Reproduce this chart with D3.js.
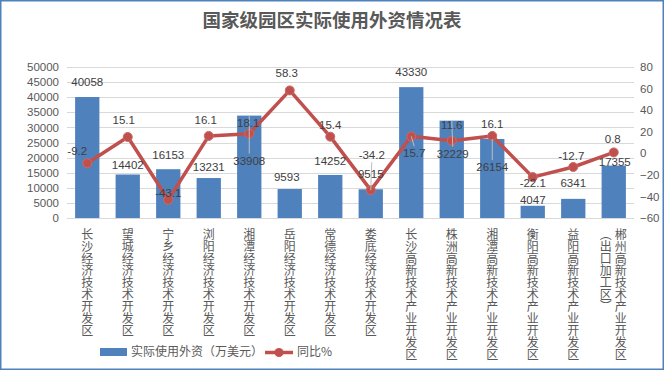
<html>
<head>
<meta charset="utf-8">
<style>
  body { margin: 0; background: #fff; }
  text { font-family: "Liberation Sans", "Noto Sans CJK SC", sans-serif; }
  .cjk { font-family: "Noto Sans CJK SC", sans-serif; }
</style>
</head>
<body>
<script src="https://d3js.org/d3.v7.min.js"></script>
<script>

var categories = ["长沙经济技术开发区", "望城经济技术开发区", "宁乡经济技术开发区", "浏阳经济技术开发区",
  "湘潭经济技术开发区", "岳阳经济技术开发区", "常德经济技术开发区", "娄底经济技术开发区",
  "长沙高新技术产业开发区", "株洲高新技术产业开发区", "湘潭高新技术产业开发区", "衡阳高新技术产业开发区",
  "益阳高新技术产业开发区", "郴州高新技术产业开发区\n（出口加工区）"];
var foreignInvest = [40058, 14402, 16153, 13231, 33908, 9593, 14252, 9515, 43330, 32229, 26154, 4047, 6341, 17355];
var yoyPct = [-9.2, 15.1, -43.1, 16.1, 18.1, 58.3, 15.4, -34.2, 15.7, 11.6, 16.1, -22.1, -12.7, 0.8];
var leftTicks = [0, 5000, 10000, 15000, 20000, 25000, 30000, 35000, 40000, 45000, 50000];
var rightTicks = [-60, -40, -20, 0, 20, 40, 60, 80];

// label nudges (px), labels were dragged around in the original
var barLabelDy = [-15, -10, -14, -11, 45, -12, -14, -15, -15, 33, 28, -6, -16, -4];
var barLabelDx = [0, 0, 0, 0, 0, -3, 0, 0, 0, 1, 0, 0, 0, 1];
var lineLabelDy = [-12, -17, -7, -16, -11, -17, -12, -35, 17, -16, -12, 6, -11, -13];
var lineLabelDx = [-10, -4, 0, -3, -1, -3, 0, 1, 3, 0, 0, 0, -2, -1];

var W = 664, H = 370;
var plot = {left: 67, right: 634, top: 67, bottom: 218};
var blue = "#4f81bd", red = "#c0504d", grey = "#595959";

var svg = d3.select("body").append("svg")
    .attr("width", W)
    .attr("height", H);

svg.append("rect")
    .attr("x", 0.75).attr("y", 0.75)
    .attr("width", W - 1.5).attr("height", H - 1.5)
    .attr("fill", "#fff")
    .attr("stroke", blue)
    .attr("stroke-width", 1.5);

svg.append("text")
    .attr("class", "cjk")
    .attr("x", 332).attr("y", 27)
    .attr("text-anchor", "middle")
    .attr("font-size", 18.5)
    .attr("font-weight", "bold")
    .attr("fill", grey)
    .text("国家级园区实际使用外资情况表");

var x = d3.scaleBand()
    .domain(categories)
    .range([plot.left, plot.right])
    .paddingInner(0.4)
    .paddingOuter(0.2);

var y = d3.scaleLinear().domain([0, 50000]).range([plot.bottom, plot.top]);
var y2 = d3.scaleLinear().domain([-60, 80]).range([plot.bottom, plot.top]);

// grid
svg.append("g")
  .selectAll("line")
  .data(leftTicks)
  .enter().append("line")
    .attr("x1", plot.left).attr("x2", plot.right)
    .attr("y1", function(d) { return Math.round(y(d)) + 0.5; })
    .attr("y2", function(d) { return Math.round(y(d)) + 0.5; })
    .attr("stroke", "#d9d9d9")
    .attr("stroke-width", 1);

// left axis
var gl = svg.append("g")
    .attr("transform", "translate(" + plot.left + ",0)")
    .call(d3.axisLeft(y).tickValues(leftTicks).tickSize(0).tickPadding(8).tickFormat(d3.format("d")));
gl.select(".domain").remove();
gl.selectAll("text").attr("font-size", 11.5).attr("fill", grey).attr("font-family", "Liberation Sans");

// right axis
var gr = svg.append("g")
    .attr("transform", "translate(" + plot.right + ",0)")
    .call(d3.axisRight(y2).tickValues(rightTicks).tickSize(0).tickPadding(6));
gr.select(".domain").remove();
gr.selectAll("text").attr("font-size", 11.5).attr("fill", grey).attr("font-family", "Liberation Sans");

// bars
svg.append("g")
  .selectAll("rect")
  .data(foreignInvest)
  .enter().append("rect")
    .attr("x", function(d, i) { return x(categories[i]); })
    .attr("y", function(d) { return y(d); })
    .attr("width", x.bandwidth())
    .attr("height", function(d) { return y(0) - y(d); })
    .attr("fill", blue);

// line
var cx = function(i) { return x(categories[i]) + x.bandwidth() / 2; };
var line = d3.line()
    .x(function(d, i) { return cx(i); })
    .y(function(d) { return y2(d); });

svg.append("path")
    .datum(yoyPct)
    .attr("d", line)
    .attr("fill", "none")
    .attr("stroke", red)
    .attr("stroke-width", 3.5)
    .attr("stroke-linejoin", "round");

svg.append("g")
  .selectAll("circle")
  .data(yoyPct)
  .enter().append("circle")
    .attr("cx", function(d, i) { return cx(i); })
    .attr("cy", function(d) { return y2(d); })
    .attr("r", 4.5)
    .attr("fill", red)
    .attr("stroke", "#c96a67")
    .attr("stroke-width", 1);

// leader lines
function leader(g, ax, ay, lx, ly) {
  var edge = ly > ay ? ly - 7 : ly + 7;
  if (Math.abs(edge - ay) < 3) return;
  g.append("line")
    .attr("x1", ax).attr("y1", ay)
    .attr("x2", lx).attr("y2", edge)
    .attr("stroke", "#bfbfbf")
    .attr("stroke-width", 1);
}
var leaders = svg.append("g");
foreignInvest.forEach(function(d, i) {
  if (barLabelDy[i] > 20) leader(leaders, cx(i), y(d), cx(i) + barLabelDx[i], y(d) + barLabelDy[i]);
});
yoyPct.forEach(function(d, i) {
  if (Math.abs(lineLabelDy[i]) > 20 || lineLabelDy[i] > 10)
    leader(leaders, cx(i), y2(d), cx(i) + lineLabelDx[i], y2(d) + lineLabelDy[i]);
});

// bar labels
svg.append("g")
  .selectAll("text")
  .data(foreignInvest)
  .enter().append("text")
    .attr("x", function(d, i) { return cx(i) + barLabelDx[i]; })
    .attr("y", function(d, i) { return y(d) + barLabelDy[i]; })
    .attr("dy", "0.35em")
    .attr("text-anchor", "middle")
    .attr("font-size", 11.5)
    .attr("fill", "#404040")
    .text(function(d) { return d; });

// line labels
svg.append("g")
  .selectAll("text")
  .data(yoyPct)
  .enter().append("text")
    .attr("x", function(d, i) { return cx(i) + lineLabelDx[i]; })
    .attr("y", function(d, i) { return y2(d) + lineLabelDy[i]; })
    .attr("dy", "0.35em")
    .attr("text-anchor", "middle")
    .attr("font-size", 11.5)
    .attr("fill", "#404040")
    .text(function(d) { return d; });

// vertical category labels
var xl = svg.append("g");
categories.forEach(function(c, i) {
  var cols = c.split("\n");
  cols.forEach(function(s, j) {
    var off = cols.length > 1 ? (j === 0 ? 7 : -8) : 0;
    xl.append("text")
      .attr("class", "cjk")
      .attr("x", cx(i) + off)
      .attr("y", 228)
      .attr("font-size", 12)
      .attr("fill", grey)
      .style("writing-mode", "vertical-rl")
      .style("text-orientation", "upright")
      .text(s);
  });
});

// legend
var lg = svg.append("g");
lg.append("rect")
    .attr("x", 100).attr("y", 348)
    .attr("width", 27).attr("height", 8)
    .attr("fill", blue);
lg.append("text")
    .attr("class", "cjk")
    .attr("x", 131).attr("y", 352)
    .attr("dy", "0.35em")
    .attr("font-size", 12)
    .attr("fill", grey)
    .text("实际使用外资（万美元）");
lg.append("line")
    .attr("x1", 265).attr("x2", 293)
    .attr("y1", 352.5).attr("y2", 352.5)
    .attr("stroke", red)
    .attr("stroke-width", 3.5);
lg.append("circle")
    .attr("cx", 279).attr("cy", 352.5)
    .attr("r", 4.5)
    .attr("fill", red);
lg.append("text")
    .attr("class", "cjk")
    .attr("x", 297).attr("y", 352)
    .attr("dy", "0.35em")
    .attr("font-size", 12)
    .attr("fill", grey)
    .text("同比%");

</script>
</body>
</html>
